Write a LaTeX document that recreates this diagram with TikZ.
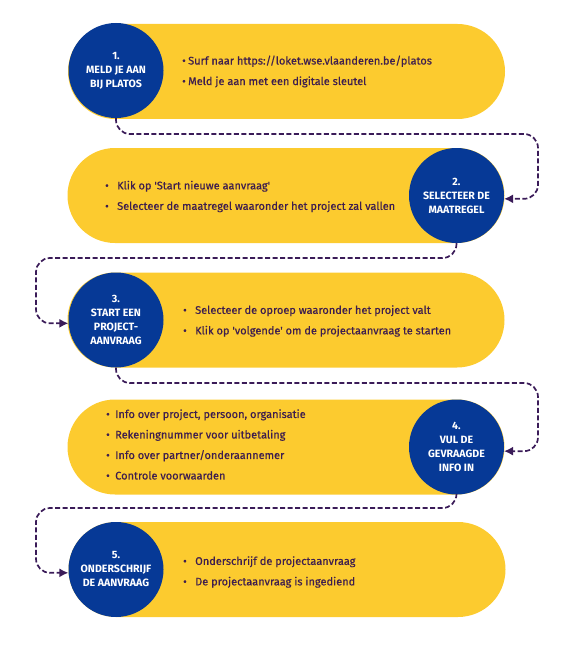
\documentclass[tikz,border=0pt]{standalone}
\usepackage{fontspec}
\setmainfont{Fira Sans}
\newfontfamily\medfont[FakeBold=0.5]{Fira Sans}
\usetikzlibrary{arrows.meta}
\definecolor{pillyellow}{HTML}{FCCB2F}
\definecolor{stepblue}{HTML}{063996}
\definecolor{linkpurple}{HTML}{3A1B58}
\definecolor{txtpurple}{HTML}{3E1E4E}
\newcommand{\bl}[1]{\makebox[#1][l]{\textbullet}}
\begin{document}
\begin{tikzpicture}[x=1pt,y=-1pt,
  pill/.style={rectangle, fill=pillyellow, rounded corners=47.5pt, minimum width=437pt, minimum height=95pt, inner sep=0pt},
  stepcircle/.style={circle, fill=stepblue, minimum size=95pt, inner sep=0pt, text=white, font=\fontsize{10.6}{14}\selectfont\bfseries, align=center},
  bullets/.style={anchor=west, inner sep=0pt, text=txtpurple, font=\medfont\fontsize{11}{20.5}\selectfont, align=left},
  conn/.style={draw=linkpurple, line width=1.7pt, dash pattern=on 5pt off 2.5pt, rounded corners=14pt, -{Latex[length=9pt,width=9pt]}}]
\useasboundingbox (0,0) rectangle (574,650);
% pills
\node[pill] (p1) at (286.5,71.5) {};
\node[pill] (p2) at (286,195.5) {};
\node[pill] (p3) at (286,320) {};
\node[pill] (p4) at (286,447) {};
\node[pill] (p5) at (287,569.5) {};
% circles
\node[stepcircle] (c1) at (116,70.5) {1.\\MELD JE AAN\\BIJ PLATOS};
\node[stepcircle] (c2) at (456.5,195.5) {2.\\SELECTEER DE\\MAATREGEL};
\node[stepcircle] (c3) at (116,320) {3.\\START EEN\\PROJECT-\\AANVRAAG};
\node[stepcircle] (c4) at (456.5,447) {4.\\VUL DE\\GEVRAAGDE\\INFO IN};
\node[stepcircle] (c5) at (116,569.5) {5.\\ONDERSCHRIJF\\DE AANVRAAG};
% text
\node[bullets] (t1) at (182,71.5) {\bl{6pt}Surf naar https://loket.wse.vlaanderen.be/platos\\\bl{6pt}Meld je aan met een digitale sleutel};
\node[bullets] (t2) at (105,196.5) {\bl{12pt}Klik op 'Start nieuwe aanvraag'\\\bl{12pt}Selecteer de maatregel waaronder het project zal vallen};
\node[bullets] (t3) at (183,321) {\bl{12pt}Selecteer de oproep waaronder het project valt\\\bl{12pt}Klik op 'volgende' om de projectaanvraag te starten};
\node[bullets] (t4) at (106,444.5) {\bl{9pt}Info over project, persoon, organisatie\\\bl{9pt}Rekeningnummer voor uitbetaling\\\bl{9pt}Info over partner/onderaannemer\\\bl{9pt}Controle voorwaarden};
\node[bullets] (t5) at (183,572) {\bl{12pt}Onderschrijf de projectaanvraag\\\bl{12pt}De projectaanvraag is ingediend};
% connectors
\draw[conn] (c1.south) |- (538,134) |- (c2.-4);
\draw[conn] (c2.south) |- (36,258) |- (c3.184);
\draw[conn] (c3.south) |- (538,383) |- (c4.-5);
\draw[conn] (c4.south) |- (36,508) |- (c5.184);
\end{tikzpicture}
\end{document}
